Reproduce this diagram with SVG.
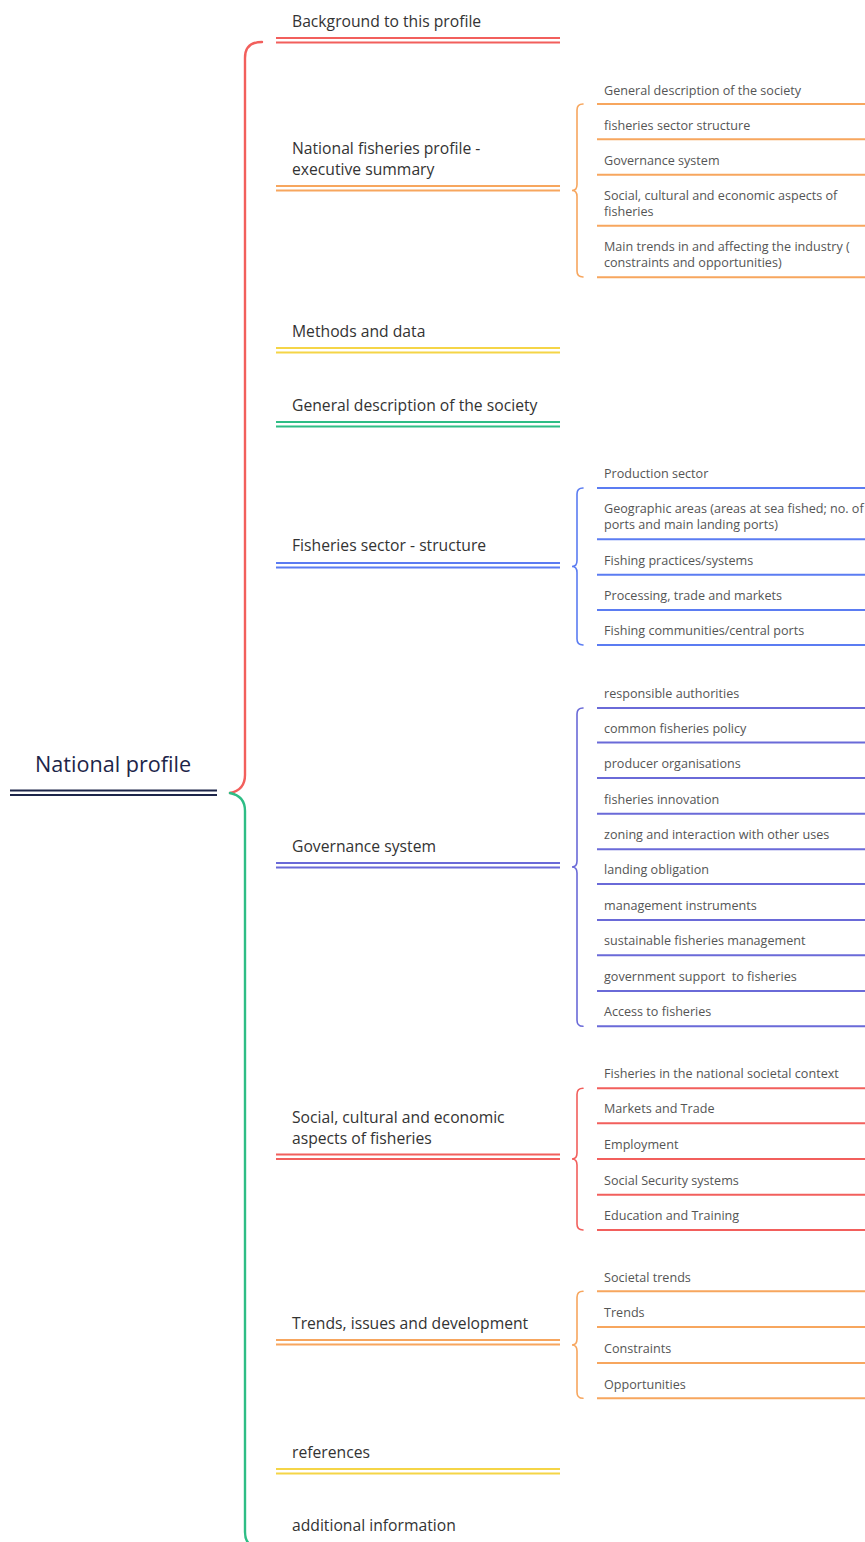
<svg xmlns="http://www.w3.org/2000/svg" width="865" height="1542" viewBox="0 0 865 1542">
<style>
.bg{fill:#ffffff}
.root{font-family:"Open Sans","Liberation Sans",sans-serif;font-size:21.6px;fill:#1d2549}
.t1{font-family:"Open Sans","Liberation Sans",sans-serif;font-size:15.7px;fill:#333333}
.t2{font-family:"Open Sans","Liberation Sans",sans-serif;font-size:12.6px;fill:#555555}
.dl{stroke-width:1.8;fill:none}
.sl{stroke-width:2;fill:none}
.br{fill:none;stroke-width:1.6;stroke-linecap:round}
.mb{fill:none;stroke-width:2.4;stroke-linecap:round}
.red{stroke:#f25f5c}
.orange{stroke:#f7a65e}
.yellow{stroke:#f5d547}
.green{stroke:#2ebd85}
.blue{stroke:#5b7cf2}
.purple{stroke:#6a6ad8}
.navy{stroke:#1d2549}
</style>
<rect class="bg" x="0" y="0" width="865" height="1542"/>

<g id="connectors">
  <path class="mb red" d="M230,793 Q245,790 245,775 L245,58 Q245,42 262,42"/>
  <path class="mb green" d="M230,793 Q245,796 245,811 L245,1532 Q245,1548 262,1548"/>
  <path class="br orange" d="M583,104 Q577,104 577,110 L577,184.5 Q577,190.5 572,190.5 Q577,190.5 577,196.5 L577,271 Q577,277 583,277"/>
  <path class="br blue" d="M583,488 Q577,488 577,494 L577,560.5 Q577,566.5 572,566.5 Q577,566.5 577,572.5 L577,639 Q577,645 583,645"/>
  <path class="br purple" d="M583,708 Q577,708 577,714 L577,861 Q577,867 572,867 Q577,867 577,873 L577,1020.3 Q577,1026.3 583,1026.3"/>
  <path class="br red" d="M583,1088.3 Q577,1088.3 577,1094.3 L577,1153 Q577,1159 572,1159 Q577,1159 577,1165 L577,1224 Q577,1230 583,1230"/>
  <path class="br orange" d="M583,1291.3 Q577,1291.3 577,1297.3 L577,1339 Q577,1345 572,1345 Q577,1345 577,1351 L577,1392.3 Q577,1398.3 583,1398.3"/>
</g>

<g id="n-root">
  <text class="root" x="35" y="772">National profile</text>
  <line class="dl navy" x1="10" y1="790.5" x2="217" y2="790.5" style="stroke-width:2"/>
  <line class="dl navy" x1="10" y1="795" x2="217" y2="795" style="stroke-width:2"/>
</g>

<g id="n-background">
  <text class="t1" x="292" y="27">Background to this profile</text>
  <line class="dl red" x1="276" y1="38" x2="560" y2="38"/>
  <line class="dl red" x1="276" y1="42.5" x2="560" y2="42.5"/>
</g>

<g id="n-exec">
  <text class="t1" x="292" y="154">National fisheries profile -</text>
  <text class="t1" x="292" y="175">executive summary</text>
  <line class="dl orange" x1="276" y1="186" x2="560" y2="186"/>
  <line class="dl orange" x1="276" y1="190.5" x2="560" y2="190.5"/>
</g>
<g id="n-exec-1"><text class="t2" x="604" y="95">General description of the society</text><line class="sl orange" x1="597" y1="104" x2="865" y2="104"/></g>
<g id="n-exec-2"><text class="t2" x="604" y="129.5">fisheries sector structure</text><line class="sl orange" x1="597" y1="139.3" x2="865" y2="139.3"/></g>
<g id="n-exec-3"><text class="t2" x="604" y="165">Governance system</text><line class="sl orange" x1="597" y1="174.7" x2="865" y2="174.7"/></g>
<g id="n-exec-4"><text class="t2" x="604" y="200">Social, cultural and economic aspects of</text><text class="t2" x="604" y="216">fisheries</text><line class="sl orange" x1="597" y1="225.7" x2="865" y2="225.7"/></g>
<g id="n-exec-5"><text class="t2" x="604" y="251">Main trends in and affecting the industry (</text><text class="t2" x="604" y="267">constraints and opportunities)</text><line class="sl orange" x1="597" y1="277.3" x2="865" y2="277.3"/></g>

<g id="n-methods">
  <text class="t1" x="292" y="337">Methods and data</text>
  <line class="dl yellow" x1="276" y1="348" x2="560" y2="348"/>
  <line class="dl yellow" x1="276" y1="352.5" x2="560" y2="352.5"/>
</g>

<g id="n-gendesc">
  <text class="t1" x="292" y="411">General description of the society</text>
  <line class="dl green" x1="276" y1="422" x2="560" y2="422"/>
  <line class="dl green" x1="276" y1="426.5" x2="560" y2="426.5"/>
</g>

<g id="n-sector">
  <text class="t1" x="292" y="551">Fisheries sector - structure</text>
  <line class="dl blue" x1="276" y1="563" x2="560" y2="563"/>
  <line class="dl blue" x1="276" y1="567.5" x2="560" y2="567.5"/>
</g>
<g id="n-sector-1"><text class="t2" x="604" y="478">Production sector</text><line class="sl blue" x1="597" y1="488" x2="865" y2="488"/></g>
<g id="n-sector-2"><text class="t2" x="604" y="513">Geographic areas (areas at sea fished; no. of</text><text class="t2" x="604" y="529">ports and main landing ports)</text><line class="sl blue" x1="597" y1="539.3" x2="865" y2="539.3"/></g>
<g id="n-sector-3"><text class="t2" x="604" y="565">Fishing practices/systems</text><line class="sl blue" x1="597" y1="574.7" x2="865" y2="574.7"/></g>
<g id="n-sector-4"><text class="t2" x="604" y="600">Processing, trade and markets</text><line class="sl blue" x1="597" y1="610" x2="865" y2="610"/></g>
<g id="n-sector-5"><text class="t2" x="604" y="635">Fishing communities/central ports</text><line class="sl blue" x1="597" y1="645" x2="865" y2="645"/></g>

<g id="n-gov">
  <text class="t1" x="292" y="852">Governance system</text>
  <line class="dl purple" x1="276" y1="863" x2="560" y2="863"/>
  <line class="dl purple" x1="276" y1="867.5" x2="560" y2="867.5"/>
</g>
<g id="n-gov-1"><text class="t2" x="604" y="698">responsible authorities</text><line class="sl purple" x1="597" y1="708" x2="865" y2="708"/></g>
<g id="n-gov-2"><text class="t2" x="604" y="733">common fisheries policy</text><line class="sl purple" x1="597" y1="742.5" x2="865" y2="742.5"/></g>
<g id="n-gov-3"><text class="t2" x="604" y="768">producer organisations</text><line class="sl purple" x1="597" y1="778" x2="865" y2="778"/></g>
<g id="n-gov-4"><text class="t2" x="604" y="804">fisheries innovation</text><line class="sl purple" x1="597" y1="813.7" x2="865" y2="813.7"/></g>
<g id="n-gov-5"><text class="t2" x="604" y="839">zoning and interaction with other uses</text><line class="sl purple" x1="597" y1="849.3" x2="865" y2="849.3"/></g>
<g id="n-gov-6"><text class="t2" x="604" y="874">landing obligation</text><line class="sl purple" x1="597" y1="884" x2="865" y2="884"/></g>
<g id="n-gov-7"><text class="t2" x="604" y="910">management instruments</text><line class="sl purple" x1="597" y1="920" x2="865" y2="920"/></g>
<g id="n-gov-8"><text class="t2" x="604" y="945">sustainable fisheries management</text><line class="sl purple" x1="597" y1="955.3" x2="865" y2="955.3"/></g>
<g id="n-gov-9"><text class="t2" x="604" y="981" style="white-space:pre">government support  to fisheries</text><line class="sl purple" x1="597" y1="991" x2="865" y2="991"/></g>
<g id="n-gov-10"><text class="t2" x="604" y="1016">Access to fisheries</text><line class="sl purple" x1="597" y1="1026.3" x2="865" y2="1026.3"/></g>

<g id="n-social">
  <text class="t1" x="292" y="1123">Social, cultural and economic</text>
  <text class="t1" x="292" y="1144">aspects of fisheries</text>
  <line class="dl red" x1="276" y1="1154.5" x2="560" y2="1154.5"/>
  <line class="dl red" x1="276" y1="1159" x2="560" y2="1159"/>
</g>
<g id="n-social-1"><text class="t2" x="604" y="1078">Fisheries in the national societal context</text><line class="sl red" x1="597" y1="1088.3" x2="865" y2="1088.3"/></g>
<g id="n-social-2"><text class="t2" x="604" y="1113">Markets and Trade</text><line class="sl red" x1="597" y1="1123.3" x2="865" y2="1123.3"/></g>
<g id="n-social-3"><text class="t2" x="604" y="1149">Employment</text><line class="sl red" x1="597" y1="1159" x2="865" y2="1159"/></g>
<g id="n-social-4"><text class="t2" x="604" y="1184.5">Social Security systems</text><line class="sl red" x1="597" y1="1194.7" x2="865" y2="1194.7"/></g>
<g id="n-social-5"><text class="t2" x="604" y="1220">Education and Training</text><line class="sl red" x1="597" y1="1230" x2="865" y2="1230"/></g>

<g id="n-trends">
  <text class="t1" x="292" y="1329">Trends, issues and development</text>
  <line class="dl orange" x1="276" y1="1340" x2="560" y2="1340"/>
  <line class="dl orange" x1="276" y1="1344.5" x2="560" y2="1344.5"/>
</g>
<g id="n-trends-1"><text class="t2" x="604" y="1281.5">Societal trends</text><line class="sl orange" x1="597" y1="1291.3" x2="865" y2="1291.3"/></g>
<g id="n-trends-2"><text class="t2" x="604" y="1317">Trends</text><line class="sl orange" x1="597" y1="1327" x2="865" y2="1327"/></g>
<g id="n-trends-3"><text class="t2" x="604" y="1353">Constraints</text><line class="sl orange" x1="597" y1="1363" x2="865" y2="1363"/></g>
<g id="n-trends-4"><text class="t2" x="604" y="1388.5">Opportunities</text><line class="sl orange" x1="597" y1="1398.3" x2="865" y2="1398.3"/></g>

<g id="n-refs">
  <text class="t1" x="292" y="1458">references</text>
  <line class="dl yellow" x1="276" y1="1469" x2="560" y2="1469"/>
  <line class="dl yellow" x1="276" y1="1473.5" x2="560" y2="1473.5"/>
</g>

<g id="n-addinfo">
  <text class="t1" x="292" y="1531">additional information</text>
  <line class="dl green" x1="276" y1="1544" x2="560" y2="1544"/>
  <line class="dl green" x1="276" y1="1548.5" x2="560" y2="1548.5"/>
</g>
</svg>
